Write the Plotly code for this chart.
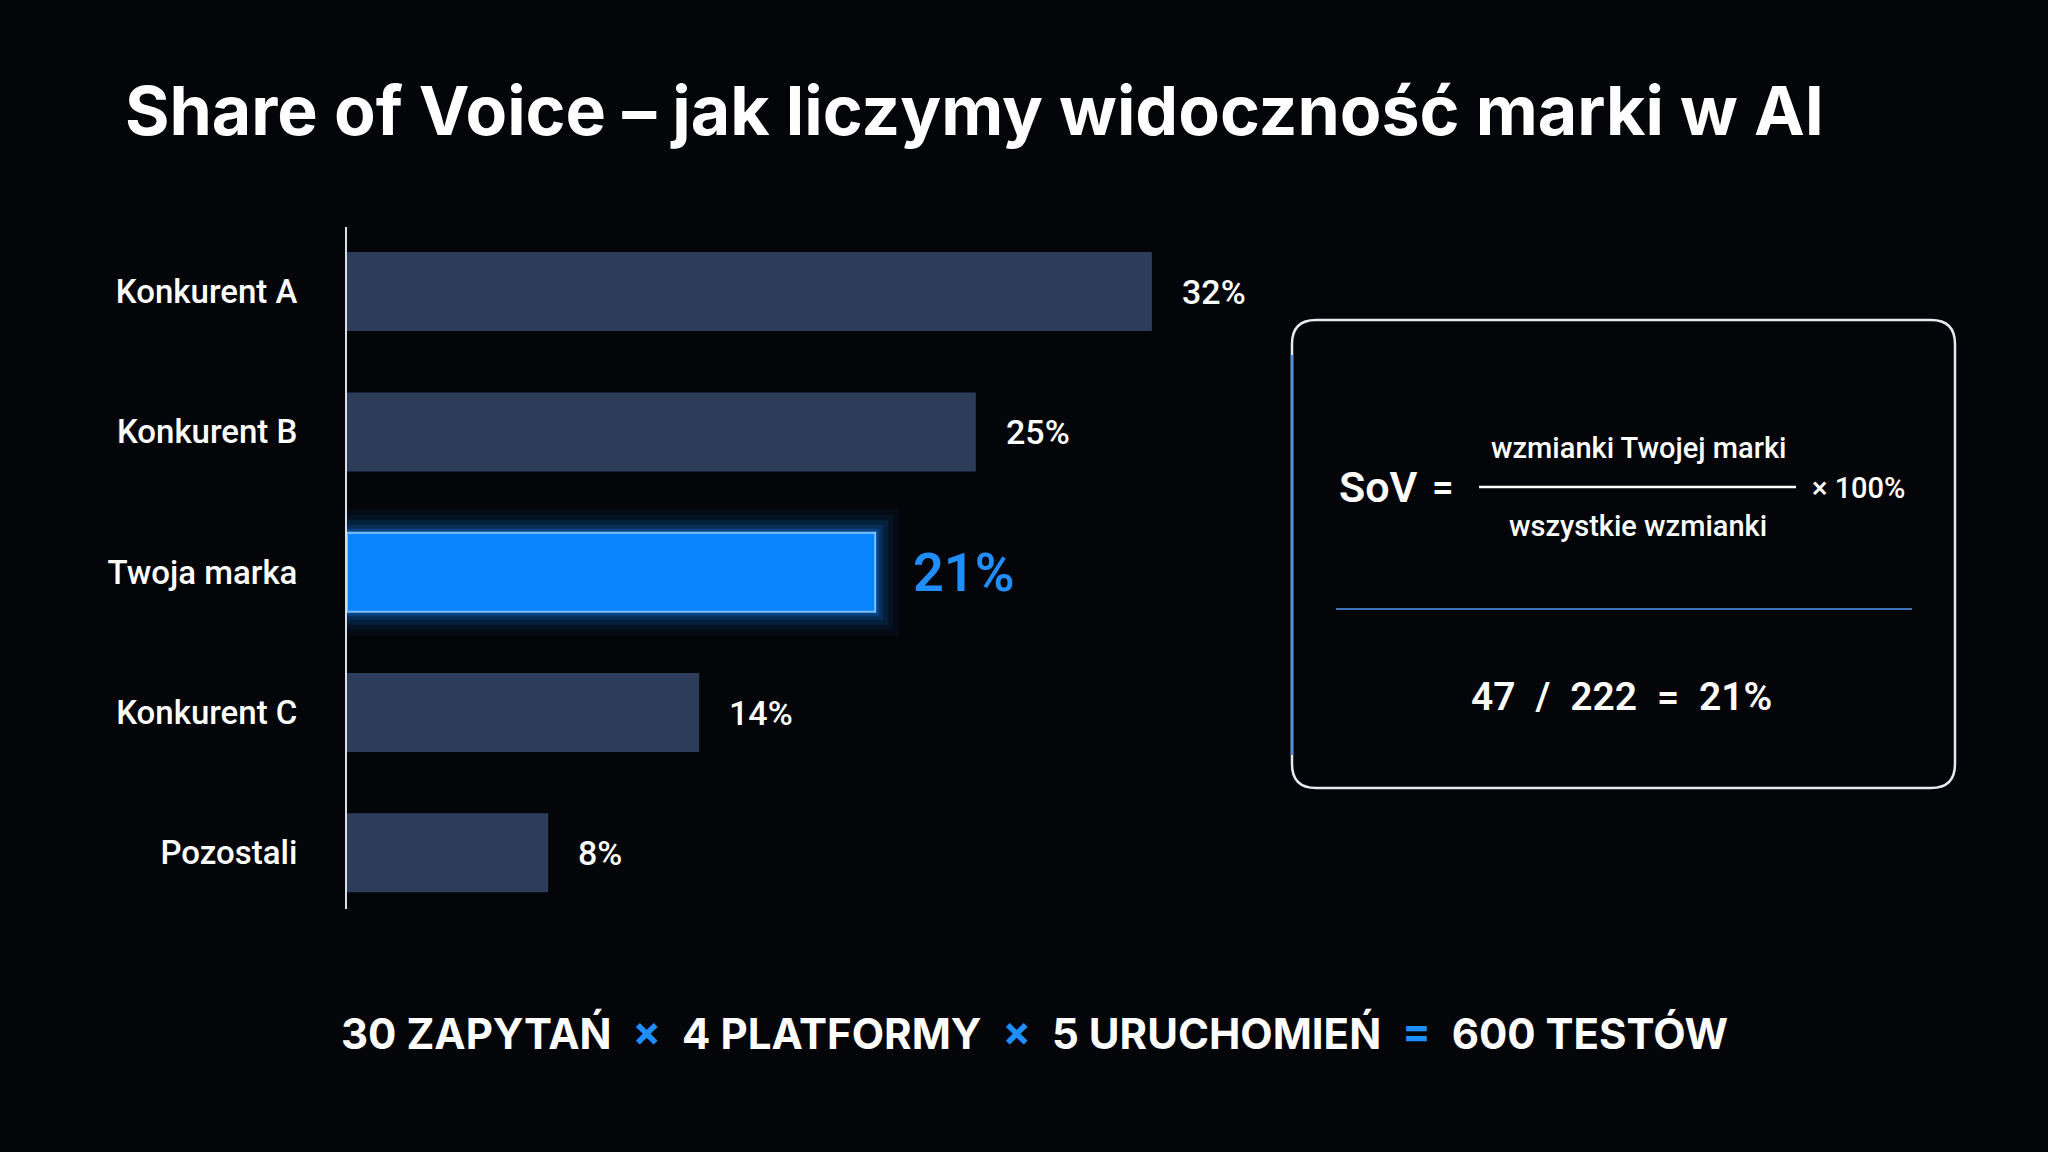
import plotly.graph_objects as go

# ---- data ----
categories = ["Konkurent A", "Konkurent B", "Twoja marka", "Konkurent C", "Pozostali"]
shares = [32, 25, 21, 14, 8]
value_labels = ["32%", "25%", "21%", "14%", "8%"]
highlight = "Twoja marka"

title_text = "Share of Voice – jak liczymy widoczność marki w AI"
numerator_text = "wzmianki Twojej marki"
denominator_text = "wszystkie wzmianki"
calc_parts = ["47", "/", "222", "=", "21%"]
footer_parts = ["30 ZAPYTAŃ", "×", "4 PLATFORMY", "×", "5 URUCHOMIEŃ", "=", "600 TESTÓW"]

# ---- style ----
W, H = 2048, 1152
BG = "#040508"
BAR = "#2e3c5b"
BLUE = "#0a84ff"
BLUE_TXT = "#1f8fff"
WHITE = "#ffffff"
FONT = "Roboto"


def px(x):
    return x / W


def py(y):
    return 1 - y / H


colors = [BLUE if c == highlight else BAR for c in categories]
line_colors = ["#7cc0ff" if c == highlight else BAR for c in categories]
line_widths = [2 if c == highlight else 0 for c in categories]

hi_cat = [c for c in categories if c == highlight]
hi_val = [v for c, v in zip(categories, shares) if c == highlight]

fig = go.Figure()

# glow layers behind highlighted bar
for lw, a in [(48, 0.05), (36, 0.07), (26, 0.1), (16, 0.16), (8, 0.25)]:
    fig.add_trace(go.Bar(
        y=hi_cat, x=hi_val, orientation="h", width=0.563,
        marker=dict(color="rgba(0,0,0,0)", line=dict(color=f"rgba(20,130,255,{a})", width=lw)),
        hoverinfo="skip", showlegend=False,
    ))

fig.add_trace(go.Bar(
    y=categories, x=shares, orientation="h", width=0.563,
    marker=dict(color=colors, line=dict(color=line_colors, width=line_widths)),
    showlegend=False,
))

# value labels
for c, v, t in zip(categories, shares, value_labels):
    hi = c == highlight
    fig.add_annotation(
        x=v, y=c, xref="x", yref="y", text=t, showarrow=False,
        xanchor="left", yanchor="middle", xshift=36 if hi else 28,
        font=dict(family=FONT, size=54 if hi else 34, color=BLUE_TXT if hi else WHITE,
                  weight=600 if hi else 500),
    )

anns = []
anns.append(dict(x=px(123), y=py(110), text=title_text, xanchor="left", yanchor="middle",
                 font=dict(family="Inter", size=68, color=WHITE, weight=700)))
anns.append(dict(x=px(1337), y=py(487), text="SoV", xanchor="left", yanchor="middle",
                 font=dict(family=FONT, size=43, color=WHITE, weight=600)))
anns.append(dict(x=px(1443), y=py(487), text="=", xanchor="center", yanchor="middle",
                 font=dict(family=FONT, size=38, color=WHITE, weight=600)))
anns.append(dict(x=px(1638), y=py(448), text=numerator_text, xanchor="center", yanchor="middle",
                 font=dict(family=FONT, size=29, color=WHITE, weight=500)))
anns.append(dict(x=px(1638), y=py(526), text=denominator_text, xanchor="center", yanchor="middle",
                 font=dict(family=FONT, size=29, color=WHITE, weight=500)))
anns.append(dict(x=px(1810), y=py(488), text="× 100%", xanchor="left", yanchor="middle",
                 font=dict(family=FONT, size=29, color=WHITE, weight=500)))
anns.append(dict(x=px(1621), y=py(697), text="\u2002".join(calc_parts), xanchor="center", yanchor="middle",
                 font=dict(family=FONT, size=39, color=WHITE, weight=600)))

footer_html = ""
for i, p in enumerate(footer_parts):
    if p in ("×", "="):
        footer_html += f"\u2002<span style='color:{BLUE_TXT}'>{p}</span>\u2002"
    else:
        footer_html += p
anns.append(dict(x=px(1034), y=py(1033), text=footer_html, xanchor="center", yanchor="middle",
                 font=dict(family="Inter", size=42, color=WHITE, weight=700)))

for a in anns:
    a.update(xref="paper", yref="paper", showarrow=False)
    fig.add_annotation(**a)

# formula box
x0, x1, y0, y1 = px(1292), px(1955), py(320), py(788)
rx, ry = 24 / W, 24 / H
box_path = (f"M {x0+rx},{y0} L {x1-rx},{y0} Q {x1},{y0} {x1},{y0-ry} "
            f"L {x1},{y1+ry} Q {x1},{y1} {x1-rx},{y1} L {x0+rx},{y1} "
            f"Q {x0},{y1} {x0},{y1+ry} L {x0},{y0-ry} Q {x0},{y0} {x0+rx},{y0} Z")
shapes = [
    dict(type="path", path=box_path, line=dict(color="#e6ebf2", width=2.5), fillcolor="rgba(0,0,0,0)"),
    dict(type="line", x0=px(1292), x1=px(1292), y0=py(355), y1=py(755), line=dict(color="#4d90e0", width=2.5)),
    dict(type="line", x0=px(1479), x1=px(1796), y0=py(487), y1=py(487), line=dict(color=WHITE, width=2.5)),
    dict(type="line", x0=px(1336), x1=px(1912), y0=py(609), y1=py(609), line=dict(color="#3b72b8", width=2)),
]
for s in shapes:
    s.update(xref="paper", yref="paper", layer="above")
    fig.add_shape(**s)

fig.update_layout(
    width=W, height=H,
    margin=dict(l=0, r=0, t=0, b=0),
    paper_bgcolor=BG, plot_bgcolor=BG,
    barmode="overlay",
    xaxis=dict(domain=[px(347), px(1250)], range=[0, 35.9], visible=False, fixedrange=True),
    yaxis=dict(
        domain=[py(909), py(227)],
        type="category", categoryorder="array", categoryarray=categories,
        range=[4.4, -0.46],
        showline=True, linecolor="#d8dde6", linewidth=2,
        showgrid=False, zeroline=False, ticks="",
        ticklabelstandoff=41, automargin=False,
        tickfont=dict(family=FONT, size=33, color=WHITE, weight=500),
    ),
    font=dict(family=FONT, color=WHITE),
)

fig.write_html("out.html")
